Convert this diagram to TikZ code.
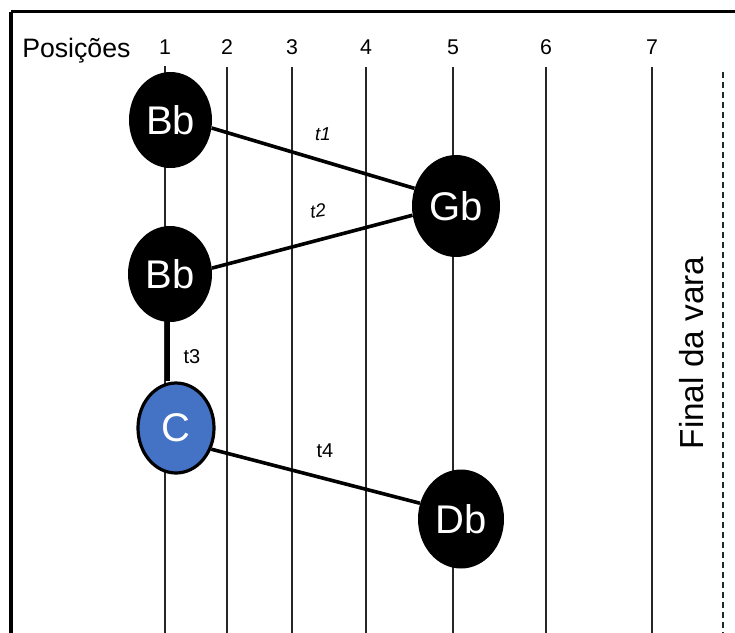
\documentclass[tikz,border=0pt]{standalone}
\usepackage{fontspec}
\setmainfont{Liberation Sans}
\usetikzlibrary{shapes.geometric}
\definecolor{nodeblue}{HTML}{4472C4}
\begin{document}
\begin{tikzpicture}[x=0.75pt,y=-0.75pt,
  posline/.style={line width=0.8pt,draw=black!85},
  endline/.style={line width=0.8pt,draw=black!85,dash pattern=on 4.5pt off 3pt},
  note/.style={ellipse,fill=black,inner sep=0pt,text=white,font=\fontsize{30}{32}\selectfont},
  bluenote/.style={ellipse,fill=nodeblue,draw=black,line width=2.4pt,inner sep=0pt,text=white,font=\fontsize{30}{32}\selectfont},
  edge/.style={line width=2.7pt,draw=black},
  poslabel/.style={font=\fontsize{16}{18}\selectfont,anchor=base},
  tlab/.style={font=\fontsize{14}{16}\selectfont\itshape},
  tlabup/.style={font=\fontsize{15}{17}\selectfont}
]
\useasboundingbox (0,0) rectangle (735,632);
\clip (0,0) rectangle (735,632);
% frame
\draw[line width=2.3pt] (11,11.5) -- (745,11.5);
\draw[line width=2.3pt] (11,11.5) -- (11,645);
% header
\node[font=\fontsize{20}{22}\selectfont,anchor=base west,inner sep=0pt] (pos) at (22,57) {Posições};
\node[poslabel] (n1) at (165,54) {1};
\node[poslabel] (n2) at (227,54) {2};
\node[poslabel] (n3) at (292,54) {3};
\node[poslabel] (n4) at (366,54) {4};
\node[poslabel] (n5) at (453,54) {5};
\node[poslabel] (n6) at (546,54) {6};
\node[poslabel] (n7) at (652,54) {7};
% position lines
\draw[posline] (165,66) -- (165,640);
\draw[posline] (227,67) -- (227,640);
\draw[posline] (292,67) -- (292,640);
\draw[posline] (366,67) -- (366,640);
\draw[posline] (453,67) -- (453,640);
\draw[posline] (546,67) -- (546,640);
\draw[posline] (652,67) -- (652,640);
\draw[endline] (723,72) -- (723,640);
% label
\node[rotate=90,font=\fontsize{25}{27}\selectfont] (fim) at (692,353) {Final da vara};
% notes
\node[note,minimum width=62.25pt,minimum height=72pt] (b1) at (170.5,120) {Bb};
\node[note,minimum width=66pt,minimum height=76.5pt] (gb) at (456,206) {Gb};
\node[note,minimum width=63pt,minimum height=72pt] (b2) at (170,274) {Bb};
\node[bluenote,minimum width=57pt,minimum height=67.5pt] (c) at (176,428) {C};
\node[note,minimum width=64.5pt,minimum height=74.25pt] (db) at (461,519) {Db};
% transitions
\draw[edge] (b1.-11) -- (gb.157);
\node[tlab] (t1) at (323,134) {t1};
\draw[edge] (b2.8) -- (gb.-168);
\node[tlab,rotate=8] (t2) at (318,211) {t2};
\draw[line width=3.4pt] (b2.-93) -- (b2.-93 |- c.north);
\node[tlabup] (t3) at (192,357) {t3};
\draw[edge] (c.-31) -- (db.159);
\node[tlabup] (t4) at (325,451) {t4};
\end{tikzpicture}
\end{document}
